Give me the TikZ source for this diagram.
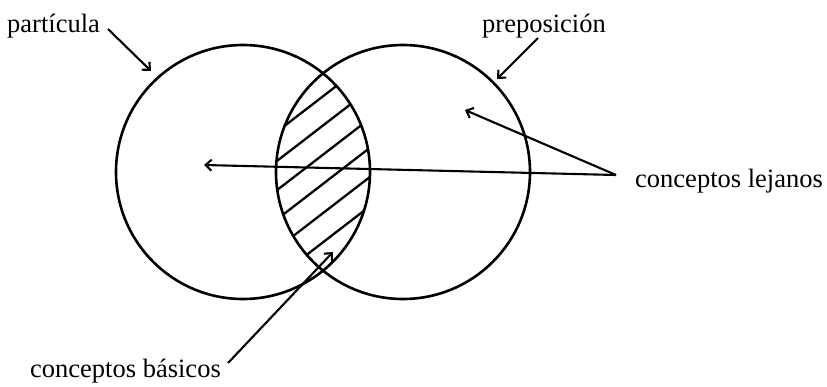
\documentclass[tikz,border=0pt]{standalone}
\usepackage{fontspec}
\setmainfont{Liberation Serif}
\usetikzlibrary{arrows.meta}
\begin{document}
\begin{tikzpicture}[x=1pt,y=-1pt,
  circ/.style={line width=2.6pt},
  hatch/.style={line width=2.3pt},
  conn/.style={line width=2.1pt,-{Straight Barb[length=6pt,width=11pt,line width=2.1pt]}},
  lbl/.style={font=\fontsize{26.5}{30}\selectfont,inner sep=0pt,anchor=base west}]
\useasboundingbox (0,0) rectangle (827,386);
% circles
\node[circle,circ,draw,minimum size=254pt,inner sep=0pt] (L) at (243,172) {};
\node[circle,circ,draw,minimum size=254pt,inner sep=0pt] (R) at (403,172) {};
% hatching
\begin{scope}
\clip (243,172) circle[radius=127];
\clip (403,172) circle[radius=127];
\foreach \b in {345,374.2,403.4,432.6,461.8,491}{
  \draw[hatch] (240,{\b-0.77*240}) -- (410,{\b-0.77*410});
}
\end{scope}
% labels
\node[lbl] (part) at (7,32) {partícula};
\node[lbl] (prep) at (482,32) {preposición};
\node[lbl] (lej) at (635,187) {conceptos lejanos};
\node[lbl] (bas) at (30,377) {conceptos básicos};
% arrow end points
\coordinate (p1) at (108,29);
\coordinate (p2) at (151,71);
\coordinate (q1) at (538,38);
\coordinate (q2) at (497,79);
\coordinate (l0) at (616,175);
\coordinate (l1) at (465,110);
\coordinate (l2) at (204,165);
\coordinate (b1) at (228,363);
\coordinate (b2) at (333,252);
\draw[conn] (p1) -- (p2);
\draw[conn] (q1) -- (q2);
\draw[conn] (l0) -- (l1);
\draw[conn] (l0) -- (l2);
\draw[conn] (b1) -- (b2);
\end{tikzpicture}
\end{document}
